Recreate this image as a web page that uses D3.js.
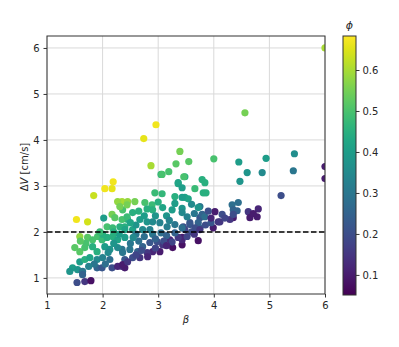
<!DOCTYPE html>
<html>
<head>
<meta charset="utf-8">
<script src="https://cdn.jsdelivr.net/npm/d3@7"></script>
<style>
  body { margin: 0; background: #fff; }
  text { font-family: "DejaVu Sans", sans-serif; fill: #262626; }
</style>
</head>
<body>
<div id="chart"></div>
<script>
// data: beta, delta V [cm/s], phi
const beta = [
  6.0, 4.56, 2.96, 2.74, 2.87, 3.39, 3.32, 3.55, 3.19, 3.05, 3.48, 3.36, 2.19, 2.04, 2.17, 1.84, 1.53, 1.73, 2.02,
  4.94, 5.45, 5.43, 6.0, 6.0, 5.21, 4.45, 4.60, 4.87, 4.47, 4.00, 3.79, 3.84, 3.66, 3.81, 3.86, 3.48, 3.54, 3.43,
  3.75, 4.33, 4.44, 4.35, 4.42, 4.02, 4.62, 4.80, 4.65, 4.78, 4.71, 4.35, 4.29, 4.15, 4.08, 3.99, 3.75, 3.79, 3.72,
  3.57, 3.45, 3.75, 3.43, 3.72, 3.43, 3.72, 3.84, 4.35, 4.11, 3.57, 3.66, 3.48, 3.75, 3.43,
  3.07, 3.46, 3.36, 3.43, 2.94, 3.07, 3.30, 3.43, 2.35, 2.45, 2.58, 2.76, 2.89, 2.90, 3.08, 3.25, 3.43, 3.52,
  2.36, 2.54, 2.45, 2.67, 2.80, 2.90, 3.03, 3.16, 3.30, 3.43, 2.40, 2.54, 2.72,
  3.52, 3.36, 3.21, 3.26, 3.08, 2.98, 2.85, 2.72, 2.90, 2.80, 2.63, 2.49, 2.35, 3.03, 2.54, 2.40, 2.67, 2.81, 2.35, 2.40,
  2.27, 2.44, 2.31, 2.17, 2.22, 2.35, 2.44, 2.08, 2.18, 2.31, 2.40, 1.59, 1.73, 1.82, 1.91, 1.99, 2.08, 2.18, 2.27, 2.40,
  1.50, 1.59, 1.68, 1.82, 1.90, 2.04, 2.13, 2.27, 2.36, 1.59, 1.68, 1.77, 1.90, 2.00, 2.13, 1.46, 1.41, 1.55, 1.64,
  1.90, 1.99, 2.17, 2.27, 2.36, 1.54, 1.68, 1.79, 1.64,
  2.60, 2.75, 2.90, 3.05, 3.15, 3.30, 2.95, 3.10, 3.25, 2.65, 2.50, 2.55, 2.20, 2.30, 2.60, 2.75, 2.95, 3.15, 3.20,
  3.60, 3.65, 3.85, 3.95, 4.20, 2.45, 2.60, 2.70, 2.95, 3.15, 2.05, 1.85, 1.75, 2.10, 2.00, 1.70, 1.95, 2.20, 2.50,
  2.65, 2.80, 3.00, 3.30, 3.60, 3.65, 3.90, 3.95, 1.60, 2.85
];
const deltaV = [
  6.0, 4.59, 4.33, 4.03, 3.44, 3.75, 3.48, 3.53, 3.31, 3.25, 3.20, 3.05, 3.09, 2.94, 2.94, 2.79, 2.27, 2.22, 2.30,
  3.60, 3.70, 3.33, 3.42, 3.16, 2.79, 3.52, 3.29, 3.29, 3.10, 3.59, 3.14, 3.07, 2.94, 2.85, 2.85, 2.75, 2.72, 2.51,
  2.55, 2.59, 2.64, 2.48, 2.46, 2.44, 2.44, 2.50, 2.31, 2.33, 2.40, 2.31, 2.27, 2.38, 2.22, 2.09, 2.31, 2.38, 2.20,
  2.20, 2.11, 2.09, 1.88, 1.81, 1.72, 2.53, 2.33, 2.38, 2.22, 2.16, 2.09, 2.05, 2.05, 1.83,
  3.25, 3.20, 3.07, 2.96, 2.85, 2.83, 2.77, 2.75, 2.66, 2.66, 2.66, 2.64, 2.59, 2.48, 2.53, 2.48, 2.42, 2.33,
  2.48, 2.42, 2.27, 2.27, 2.22, 2.22, 2.20, 2.11, 2.16, 2.09, 2.11, 2.05, 2.05,
  1.90, 1.88, 1.83, 1.66, 1.72, 1.79, 1.77, 1.68, 1.57, 1.55, 1.57, 1.62, 1.62, 1.57, 1.44, 1.40, 1.44, 1.46, 1.25, 1.22,
  2.66, 2.59, 2.55, 2.38, 2.31, 2.27, 2.33, 2.11, 2.09, 2.11, 2.05, 1.90, 1.88, 1.83, 1.90, 1.83, 1.88, 1.90, 1.83, 1.88,
  1.66, 1.57, 1.66, 1.68, 1.57, 1.68, 1.62, 1.66, 1.55, 1.35, 1.40, 1.44, 1.40, 1.44, 1.40, 1.22, 1.14, 1.18, 1.14,
  1.22, 1.22, 1.22, 1.25, 1.29, 0.90, 0.92, 0.94, 1.07,
  1.95, 1.90, 1.95, 1.98, 1.92, 1.98, 1.85, 1.80, 1.78, 1.80, 1.75, 1.88, 1.75, 1.95, 2.15, 2.35, 2.35, 2.35, 2.25,
  2.00, 1.95, 2.15, 2.20, 2.30, 1.35, 1.50, 1.60, 1.65, 1.70, 1.30, 1.30, 1.25, 1.55, 1.95, 1.75, 2.00, 2.00, 2.20,
  2.45, 2.50, 2.65, 2.62, 2.60, 2.40, 2.45, 2.30, 1.80, 2.05
];
const phi = [
  0.60, 0.55, 0.67, 0.66, 0.60, 0.55, 0.52, 0.52, 0.50, 0.47, 0.45, 0.43, 0.67, 0.67, 0.66, 0.63, 0.67, 0.64, 0.40,
  0.40, 0.36, 0.30, 0.10, 0.10, 0.20, 0.40, 0.38, 0.35, 0.38, 0.50, 0.45, 0.45, 0.48, 0.45, 0.45, 0.42, 0.42, 0.38,
  0.30, 0.28, 0.28, 0.25, 0.25, 0.10, 0.15, 0.12, 0.10, 0.10, 0.10, 0.10, 0.15, 0.20, 0.15, 0.10, 0.22, 0.25, 0.25,
  0.22, 0.20, 0.25, 0.10, 0.08, 0.08, 0.38, 0.28, 0.20, 0.15, 0.22, 0.20, 0.18, 0.15, 0.12,
  0.50, 0.50, 0.42, 0.40, 0.48, 0.47, 0.45, 0.40, 0.60, 0.58, 0.55, 0.50, 0.48, 0.45, 0.42, 0.40, 0.35, 0.33,
  0.50, 0.45, 0.45, 0.40, 0.38, 0.35, 0.33, 0.32, 0.30, 0.28, 0.45, 0.42, 0.35,
  0.18, 0.15, 0.12, 0.08, 0.15, 0.20, 0.22, 0.25, 0.12, 0.15, 0.25, 0.30, 0.30, 0.10, 0.20, 0.22, 0.15, 0.12, 0.15, 0.10,
  0.58, 0.55, 0.55, 0.55, 0.52, 0.50, 0.48, 0.50, 0.48, 0.45, 0.42, 0.58, 0.52, 0.50, 0.50, 0.48, 0.45, 0.45, 0.42, 0.40,
  0.52, 0.52, 0.50, 0.45, 0.45, 0.40, 0.38, 0.35, 0.30, 0.40, 0.45, 0.42, 0.35, 0.33, 0.28, 0.40, 0.38, 0.38, 0.30,
  0.25, 0.22, 0.20, 0.12, 0.10, 0.20, 0.15, 0.08, 0.25,
  0.30, 0.28, 0.30, 0.28, 0.25, 0.25, 0.25, 0.20, 0.18, 0.28, 0.30, 0.35, 0.38, 0.40, 0.38, 0.40, 0.38, 0.38, 0.33,
  0.20, 0.15, 0.20, 0.22, 0.18, 0.15, 0.18, 0.20, 0.18, 0.12, 0.28, 0.30, 0.33, 0.35, 0.45, 0.50, 0.48, 0.45, 0.42,
  0.45, 0.45, 0.45, 0.40, 0.35, 0.30, 0.20, 0.12, 0.52, 0.33
];
const xTicks = [1, 2, 3, 4, 5, 6];
const yTicks = [1, 2, 3, 4, 5, 6];
const cTicks = [0.1, 0.2, 0.3, 0.4, 0.5, 0.6];
const threshold = 2;

const points = beta.map((b, i) => ({ b: b, v: deltaV[i], p: phi[i] }));

const svgWidth = 399, svgHeight = 347;
const margin = { top: 36, left: 47 };
const width = 278, height = 258;

const svg = d3.select("#chart").append("svg")
  .attr("width", svgWidth)
  .attr("height", svgHeight);

const xScale = d3.scaleLinear().domain([1, 6]).range([0, width]);
const yScale = d3.scaleLinear().domain([0.65, 6.26]).range([height, 0]);
const phiMin = 0.051, phiMax = 0.683;
const color = d3.scaleSequential(d3.interpolateViridis).domain([phiMin, phiMax]);

const chartGroup = svg.append("g")
  .attr("transform", `translate(${margin.left}, ${margin.top})`);

svg.append("defs").append("clipPath").attr("id", "clip")
  .append("rect").attr("width", width).attr("height", height);

// grid
chartGroup.append("g").selectAll("line.gx")
  .data(xTicks).enter().append("line")
  .attr("x1", d => xScale(d)).attr("x2", d => xScale(d))
  .attr("y1", 0).attr("y2", height)
  .attr("stroke", "#d9d9d9").attr("stroke-width", 1);
chartGroup.append("g").selectAll("line.gy")
  .data(yTicks).enter().append("line")
  .attr("x1", 0).attr("x2", width)
  .attr("y1", d => yScale(d)).attr("y2", d => yScale(d))
  .attr("stroke", "#d9d9d9").attr("stroke-width", 1);

// points
chartGroup.append("g").attr("clip-path", "url(#clip)")
  .selectAll("circle")
  .data(points).enter().append("circle")
  .attr("cx", d => xScale(d.b))
  .attr("cy", d => yScale(d.v))
  .attr("r", 3.6)
  .attr("fill", d => color(d.p));

// threshold line
chartGroup.append("line")
  .attr("x1", 0).attr("x2", width)
  .attr("y1", yScale(threshold)).attr("y2", yScale(threshold))
  .attr("stroke", "#000").attr("stroke-width", 1.5)
  .attr("stroke-dasharray", "5.5,2.5");

// axes
const bottomAxis = d3.axisBottom(xScale).tickValues(xTicks).tickSize(3.5).tickPadding(4).tickFormat(d3.format("d"));
const leftAxis = d3.axisLeft(yScale).tickValues(yTicks).tickSize(3.5).tickPadding(4).tickFormat(d3.format("d"));

const xg = chartGroup.append("g")
  .attr("transform", `translate(0, ${height})`)
  .call(bottomAxis);
const yg = chartGroup.append("g").call(leftAxis);
[xg, yg].forEach(g => {
  g.select(".domain").remove();
  g.selectAll("line").attr("stroke", "#333");
  g.selectAll("text").style("font-size", "10px").attr("fill", "#262626");
});

chartGroup.append("rect")
  .attr("width", width).attr("height", height)
  .attr("fill", "none").attr("stroke", "#333").attr("stroke-width", 1);

// axis labels
chartGroup.append("text")
  .attr("x", width / 2).attr("y", height + 29)
  .attr("text-anchor", "middle")
  .style("font-size", "10px").style("font-style", "italic")
  .text("β");

const yl = chartGroup.append("text")
  .attr("transform", `translate(-19, ${height / 2 + 2}) rotate(-90)`)
  .attr("text-anchor", "middle")
  .style("font-size", "10px");
yl.append("tspan").text("Δ");
yl.append("tspan").style("font-style", "italic").text("V");
yl.append("tspan").text(" [cm/s]");

// colorbar
const cbX = 343, cbW = 13, cbTop = 36, cbH = 259;
const cScale = d3.scaleLinear().domain([phiMin, phiMax]).range([cbTop + cbH, cbTop]);
const grad = svg.select("defs").append("linearGradient")
  .attr("id", "cbgrad").attr("x1", 0).attr("y1", 1).attr("x2", 0).attr("y2", 0);
d3.range(0, 1.0001, 0.05).forEach(t => {
  grad.append("stop").attr("offset", t).attr("stop-color", d3.interpolateViridis(t));
});
svg.append("rect")
  .attr("x", cbX).attr("y", cbTop).attr("width", cbW).attr("height", cbH)
  .attr("fill", "url(#cbgrad)").attr("stroke", "#333").attr("stroke-width", 1);

const cg = svg.append("g")
  .attr("transform", `translate(${cbX + cbW}, 0)`)
  .call(d3.axisRight(cScale).tickValues(cTicks).tickSize(3.5).tickPadding(3).tickFormat(d3.format(".1f")));
cg.select(".domain").remove();
cg.selectAll("line").attr("stroke", "#333");
cg.selectAll("text").style("font-size", "10px").attr("fill", "#262626");

svg.append("text")
  .attr("x", cbX + cbW / 2).attr("y", 29)
  .attr("text-anchor", "middle")
  .style("font-size", "11px").style("font-style", "italic")
  .text("ϕ");
</script>
</body>
</html>
